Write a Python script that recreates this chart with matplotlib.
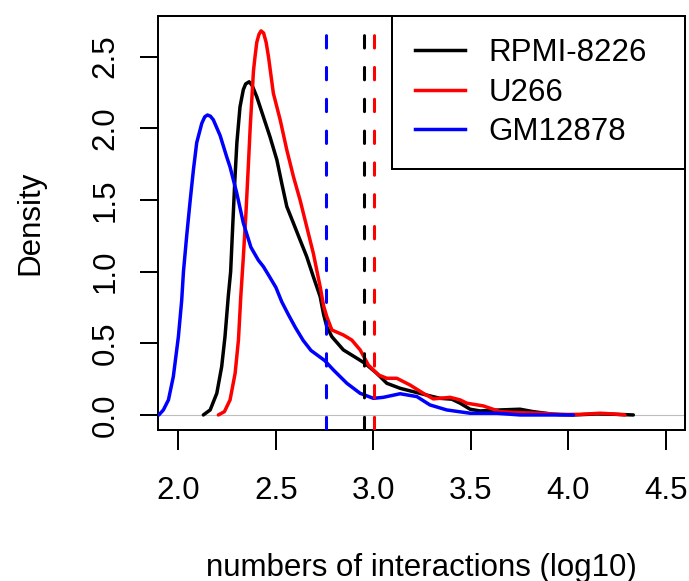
import matplotlib
matplotlib.use("Agg")
import matplotlib.pyplot as plt
from matplotlib.lines import Line2D

plt.rcParams['font.family'] = ['Liberation Sans', 'DejaVu Sans']
plt.rcParams['lines.scale_dashes'] = False

# ---- data ----
rpmi_x = [2.128, 2.163, 2.197, 2.222, 2.239, 2.256, 2.268, 2.278, 2.290, 2.300, 2.316,
          2.333, 2.345, 2.363, 2.378, 2.402, 2.436, 2.470, 2.505, 2.530, 2.556, 2.590,
          2.624, 2.658, 2.692, 2.727, 2.745, 2.761, 2.787, 2.846, 2.915, 2.957, 3.017,
          3.069, 3.137, 3.223, 3.290, 3.342, 3.402, 3.445, 3.496, 3.547, 3.650, 3.752,
          3.820, 3.923, 4.026, 4.146, 4.230, 4.333]
rpmi_y = [0.000, 0.035, 0.151, 0.337, 0.546, 0.830, 1.000, 1.300, 1.650, 1.900, 2.150,
          2.270, 2.310, 2.325, 2.300, 2.220, 2.080, 1.940, 1.780, 1.617, 1.454, 1.338,
          1.221, 1.105, 0.965, 0.826, 0.700, 0.616, 0.546, 0.454, 0.396, 0.360, 0.291,
          0.221, 0.186, 0.156, 0.133, 0.116, 0.110, 0.082, 0.040, 0.028, 0.035, 0.040,
          0.023, 0.005, 0.000, 0.007, 0.005, 0.000]

u266_x = [2.205, 2.236, 2.265, 2.291, 2.308, 2.320, 2.333, 2.346, 2.359, 2.368, 2.385,
          2.393, 2.402, 2.413, 2.424, 2.437, 2.450, 2.462, 2.487, 2.522, 2.556, 2.590,
          2.624, 2.658, 2.692, 2.727, 2.745, 2.761, 2.787, 2.846, 2.889, 2.932, 2.974,
          3.026, 3.069, 3.120, 3.188, 3.256, 3.308, 3.393, 3.445, 3.479, 3.564, 3.650,
          3.752, 3.855, 3.957, 4.060, 4.163, 4.230, 4.290]
u266_y = [0.000, 0.023, 0.105, 0.291, 0.523, 0.826, 1.100, 1.396, 1.745, 2.000, 2.400,
          2.500, 2.600, 2.655, 2.680, 2.665, 2.600, 2.500, 2.245, 2.059, 1.849, 1.663,
          1.500, 1.314, 1.128, 0.895, 0.760, 0.686, 0.593, 0.558, 0.523, 0.454, 0.349,
          0.279, 0.256, 0.256, 0.209, 0.151, 0.112, 0.123, 0.105, 0.082, 0.063, 0.023,
          0.016, 0.012, 0.003, 0.004, 0.012, 0.007, 0.000]

gm_x = [1.900, 1.923, 1.949, 1.974, 2.000, 2.017, 2.026, 2.043, 2.060, 2.077, 2.094,
        2.120, 2.135, 2.149, 2.164, 2.179, 2.214, 2.248, 2.265, 2.299, 2.333, 2.372,
        2.410, 2.436, 2.465, 2.500, 2.530, 2.564, 2.600, 2.640, 2.680, 2.720, 2.750,
        2.795, 2.864, 2.932, 3.000, 3.051, 3.137, 3.223, 3.290, 3.376, 3.496, 3.633,
        3.752, 4.026]
gm_y = [0.000, 0.035, 0.105, 0.267, 0.546, 0.800, 1.000, 1.256, 1.490, 1.710, 1.900,
        2.035, 2.080, 2.093, 2.085, 2.060, 1.950, 1.800, 1.730, 1.550, 1.340, 1.170,
        1.080, 1.035, 0.970, 0.890, 0.790, 0.700, 0.610, 0.520, 0.450, 0.410, 0.380,
        0.314, 0.221, 0.151, 0.116, 0.123, 0.148, 0.128, 0.070, 0.035, 0.012, 0.012,
        0.000, 0.000]

series_names = ["RPMI-8226", "U266", "GM12878"]
series_colors = ["black", "red", "blue"]
medians = [2.953, 3.003, 2.755]
xticks = [2.0, 2.5, 3.0, 3.5, 4.0, 4.5]
yticks = [0.0, 0.5, 1.0, 1.5, 2.0, 2.5]

# ---- figure ----
W, H = 689, 581
FS = 22.5
fig = plt.figure(figsize=(W / 100, H / 100), dpi=100)
ax = fig.add_axes([158.3 / W, 1 - 430 / H, (685 - 158.3) / W, (430 - 15.7) / H])

ax.set_xlim(1.897, 4.598)
ax.set_ylim(-0.105, 2.786)

ax.axhline(0, color='#BEBEBE', lw=0.8, zorder=1)

curves = [(rpmi_x, rpmi_y), (u266_x, u266_y), (gm_x, gm_y)]
lw = 2.5
for (xs, ys), c in zip(curves, series_colors):
    ax.plot(xs, ys, color=c, lw=lw, solid_capstyle='round', solid_joinstyle='round', zorder=3)

# dashed vertical lines (drawn top to bottom)
for m, c in zip([medians[2], medians[0], medians[1]], ['blue', 'black', 'red']):
    ax.plot([m, m], [1, 0], transform=ax.get_xaxis_transform(), color=c, lw=2.2,
            linestyle=(9.1, (8.9, 14.0)), dash_capstyle='round', zorder=4)

for sp in ax.spines.values():
    sp.set_linewidth(1.44)

ax.set_xticks(xticks)
ax.set_xticklabels([f"{v:.1f}" for v in xticks])
ax.set_yticks(yticks)
ax.set_yticklabels([f"{v:.1f}" for v in yticks], rotation=90, va='center')
ax.tick_params(axis='x', length=14.4, width=1.44, pad=19.0, labelsize=FS)
ax.tick_params(axis='y', length=13.2, width=1.44, pad=14.0, labelsize=FS)

fig.text(421.7 / W, 1 - 576 / H, "numbers of interactions (log10)",
         ha='center', va='baseline', fontsize=FS)
fig.text(38 / W, 1 - 222.9 / H, "Density", rotation=90, rotation_mode='anchor',
         ha='center', va='baseline', fontsize=FS)

handles = [Line2D([], [], color=c, lw=lw) for c in series_colors]
leg = ax.legend(handles, series_names, loc='upper left',
                bbox_to_anchor=(0.4443, 0.0, 0.5557, 1.0), mode='expand',
                borderaxespad=0, fontsize=FS, handlelength=1.6,
                handletextpad=0.76, labelspacing=0.30, borderpad=0.72,
                fancybox=False, edgecolor='black', framealpha=1)
leg.get_frame().set_linewidth(1.44)

fig.savefig("out.png", dpi=100)
